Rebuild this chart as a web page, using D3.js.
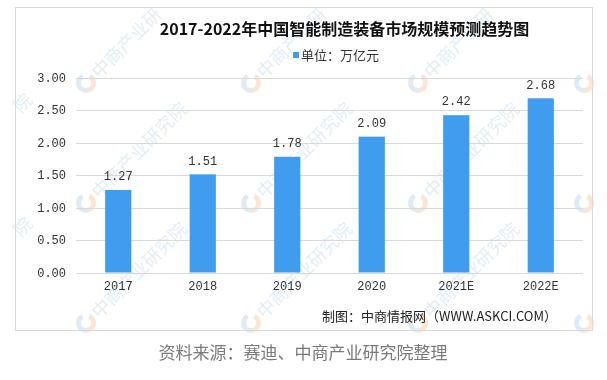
<!DOCTYPE html>
<html><head><meta charset="utf-8">
<script src="https://cdn.jsdelivr.net/npm/d3@7"></script>
<style>body{margin:0;background:#fff;} svg{display:block}</style>
</head><body>
<svg id="c" width="607" height="380"></svg>
<script>
const categories = ["2017", "2018", "2019", "2020", "2021E", "2022E"];
const values = [1.27, 1.51, 1.78, 2.09, 2.42, 2.68];
const yTicks = [0, 0.5, 1, 1.5, 2, 2.5, 3];
const title = "2017-2022年中国智能制造装备市场规模预测趋势图";
const legendLabel = "单位：万亿元";
const credit = "制图：中商情报网（WWW.ASKCI.COM）";
const source = "资料来源：赛迪、中商产业研究院整理";
const watermark = "中商产业研究院";
const watermarkTop = "中商产业研";
const logoX = [86, 251, 418, 584];
const logoY = [83, 203, 323];

const svg = d3.select("#c");
const CJK = "'Noto Sans CJK SC', 'Noto Sans', sans-serif";
const MONO = "'Liberation Mono', 'DejaVu Sans Mono', monospace";
const barColor = "#3f9cef";

// outer frame
svg.append("rect").attr("x", 15.5).attr("y", 7.5).attr("width", 577).attr("height", 323)
  .attr("fill", "#fff").attr("stroke", "#d9d9d9");

// watermarks (faint)
const wm = svg.append("g").attr("opacity", 0.6);
const arc = d3.arc().innerRadius(5).outerRadius(10);
logoX.forEach((lx, ci) => logoY.forEach((ly, ri) => {
  const g = wm.append("g").attr("transform", `translate(${lx},${ly})`);
  g.append("path").attr("d", arc({startAngle: Math.PI * 0.15, endAngle: Math.PI * 1.0})).attr("fill", "#f8d5bb");
  g.append("path").attr("d", arc({startAngle: Math.PI * 1.0, endAngle: Math.PI * 1.85})).attr("fill", "#c8def2");
  if (ci < logoX.length - 1) {
    g.append("text").attr("transform", "rotate(-45)").attr("x", 12).attr("y", 7)
      .attr("font-family", CJK).attr("font-size", 18)
      .attr("fill", "#cfe1f3").text(ri === 0 ? watermarkTop : watermark);
  }
}));
// tail of the watermark entering from the left edge
[103, 227].forEach(ty => {
  wm.append("text").attr("transform", `translate(23,${ty}) rotate(-45)`).attr("text-anchor", "middle")
    .attr("dy", "0.35em").attr("font-family", CJK).attr("font-size", 18)
    .attr("fill", "#cfe1f3").text(watermark.slice(-1));
});

// scales
const x = d3.scaleBand().domain(categories).range([76, 583]).paddingInner(0.69).paddingOuter(0.345);
const y = d3.scaleLinear().domain([0, 3]).range([272.5, 77.5]);

// grid + y labels
const yAxis = d3.axisLeft(y).tickValues(yTicks).tickSize(-(583 - 76)).tickPadding(10)
  .tickFormat(d3.format(".2f"));
const ga = svg.append("g").attr("transform", "translate(76,0)").call(yAxis);
ga.select(".domain").remove();
ga.selectAll(".tick line").attr("stroke", "#d9d9d9").attr("shape-rendering", "crispEdges");
ga.selectAll(".tick text").attr("font-family", MONO).attr("font-size", 12).attr("fill", "#333");

// x labels
const xAxis = d3.axisBottom(x).tickSize(0).tickPadding(9);
const gx = svg.append("g").attr("transform", "translate(0,272.5)").call(xAxis);
gx.select(".domain").remove();
gx.selectAll(".tick text").attr("font-family", MONO).attr("font-size", 12).attr("fill", "#333");

// bars
svg.append("g").selectAll("rect").data(values).join("rect")
  .attr("x", (d, i) => x(categories[i]))
  .attr("width", x.bandwidth())
  .attr("y", d => y(d))
  .attr("height", d => y(0) - y(d))
  .attr("fill", barColor);

// value labels
svg.append("g").selectAll("text").data(values).join("text")
  .attr("x", (d, i) => x(categories[i]) + x.bandwidth() / 2)
  .attr("y", d => y(d) - 14)
  .attr("dy", "0.35em")
  .attr("text-anchor", "middle")
  .attr("font-family", MONO).attr("font-size", 12).attr("fill", "#333")
  .text(d => d.toFixed(2));

// title
svg.append("text").attr("x", 344.5).attr("y", 29).attr("dy", "0.35em")
  .attr("text-anchor", "middle").attr("font-family", CJK).attr("font-weight", "bold")
  .attr("font-size", 16).attr("fill", "#111").text(title);

// legend
svg.append("rect").attr("x", 293).attr("y", 52).attr("width", 6).attr("height", 6).attr("fill", barColor);
svg.append("text").attr("x", 301).attr("y", 55).attr("dy", "0.35em")
  .attr("font-family", CJK).attr("font-size", 13).attr("fill", "#333").text(legendLabel);

// credit
svg.append("text").attr("x", 557).attr("y", 316).attr("dy", "0.35em").attr("text-anchor", "end")
  .attr("font-family", CJK).attr("font-size", 13).attr("fill", "#222").text(credit);

// source
svg.append("text").attr("x", 303).attr("y", 353).attr("dy", "0.35em").attr("text-anchor", "middle")
  .attr("font-family", CJK).attr("font-size", 17).attr("fill", "#7a7a7a").text(source);
</script>
</body></html>
